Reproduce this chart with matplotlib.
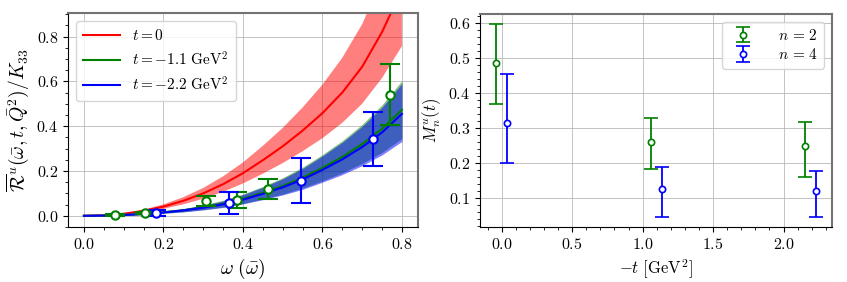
import numpy as np
import matplotlib.pyplot as plt
from matplotlib.ticker import AutoMinorLocator, MultipleLocator

plt.rcParams['font.family'] = 'serif'
plt.rcParams['font.serif'] = ['cmr10', 'DejaVu Serif']
plt.rcParams['mathtext.fontset'] = 'cm'
plt.rcParams['axes.formatter.use_mathtext'] = True

# curves, omega grid
omega = [0.0, 0.05, 0.1, 0.15, 0.2, 0.25, 0.3, 0.35, 0.4, 0.45, 0.5, 0.55, 0.6, 0.65, 0.7, 0.75, 0.8]
red_mid = [0, .002, .009, .022, .041, .067, .100, .141, .190, .248, .310, .380, .458, .550, .665, .820, 1.01]
red_hi = [0, .0025, .011, .027, .051, .083, .124, .176, .238, .312, .392, .483, .585, .705, .855, 1.06, 1.31]
red_lo = [0, .0015, .007, .017, .031, .051, .076, .107, .144, .188, .235, .288, .346, .415, .500, .615, .757]
green_mid = [0, .001, .0037, .0085, .016, .025, .038, .054, .076, .103, .133, .170, .214, .263, .320, .388, .473]
green_hi = [0, .0013, .0047, .011, .020, .032, .048, .069, .097, .131, .170, .217, .273, .335, .408, .495, .603]
green_lo = [0, .0007, .0027, .0062, .0117, .018, .028, .039, .055, .075, .097, .124, .156, .192, .234, .283, .345]
blue_mid = [0, .001, .0035, .008, .015, .024, .036, .051, .072, .098, .127, .162, .205, .252, .307, .372, .455]
blue_hi = [0, .0013, .0046, .0104, .0195, .031, .047, .066, .094, .127, .165, .211, .267, .328, .399, .484, .59]
blue_lo = [0, .0007, .0026, .0058, .011, .0175, .026, .037, .053, .072, .093, .118, .150, .184, .224, .272, .332]

# lattice points
w_g = [0.077, 0.154, 0.308, 0.385, 0.462, 0.770]
r_g = [0.003, 0.012, 0.065, 0.070, 0.120, 0.540]
e_g = [0.004, 0.005, 0.023, 0.036, 0.044, 0.136]
w_b = [0.182, 0.364, 0.545, 0.727]
r_b = [0.012, 0.057, 0.157, 0.343]
e_b = [0.012, 0.048, 0.101, 0.122]

# moments
mt = [0.0, 1.1, 2.19]
m2 = [0.485, 0.261, 0.250]
m2_lo = [0.370, 0.183, 0.160]
m2_hi = [0.598, 0.328, 0.316]
m4 = [0.315, 0.126, 0.119]
m4_lo = [0.200, 0.045, 0.047]
m4_hi = [0.455, 0.190, 0.178]

fig = plt.figure(figsize=(8.47, 2.82), dpi=100)
ax1 = fig.add_axes([0.0803, 0.195, 0.413, 0.759])
ax2 = fig.add_axes([0.5667, 0.195, 0.4156, 0.755])

for ax in (ax1, ax2):
    ax.grid(True, color='0.7', lw=0.7, alpha=0.8)
    ax.set_axisbelow(True)
    ax.tick_params(labelsize=11.5)
    for s in ('top', 'right'):
        ax.spines[s].set_color('0.45')
        ax.spines[s].set_linewidth(1.5)

ax1.fill_between(omega, red_lo, red_hi, color='red', alpha=0.5, lw=0)
ax1.fill_between(omega, green_lo, green_hi, color='green', alpha=0.5, lw=0)
ax1.fill_between(omega, blue_lo, blue_hi, color='blue', alpha=0.5, lw=0)
ax1.plot(omega, red_mid, color='red', lw=1.5, label=r'$t = 0$')
ax1.plot(omega, green_mid, color='green', lw=1.5, label=r'$t = -1.1\ \mathrm{GeV}^2$')
ax1.plot(omega, blue_mid, color='blue', lw=1.5, label=r'$t = -2.2\ \mathrm{GeV}^2$')
ax1.errorbar(w_g, r_g, yerr=e_g, fmt='o', color='green', mfc='white', mec='green', ms=6,
             mew=1.5, capsize=7, elinewidth=1.5, capthick=1.5, zorder=5)
ax1.errorbar(w_b, r_b, yerr=e_b, fmt='o', color='blue', mfc='white', mec='blue', ms=6,
             mew=1.5, capsize=7, elinewidth=1.5, capthick=1.5, zorder=5)
ax1.set_xlim(-0.04, 0.84)
ax1.set_ylim(-0.05, 0.905)
ax1.set_xticks([0.0, 0.2, 0.4, 0.6, 0.8])
ax1.set_yticks([0.0, 0.2, 0.4, 0.6, 0.8])
ax1.set_xlabel(r'$\omega\ (\bar{\omega})$', fontsize=14)
ax1.set_ylabel(r'$\overline{\mathcal{R}}^u(\bar{\omega}, t, \bar{Q}^2)/K_{33}$', fontsize=14)
ax1.legend(loc='upper left', fontsize=11, handlelength=2.4, borderpad=0.5, labelspacing=0.45)

mt = np.array(mt)
m2, m4 = np.array(m2), np.array(m4)
ax2.errorbar(mt - 0.04, m2, yerr=[m2 - np.array(m2_lo), np.array(m2_hi) - m2], fmt='o',
             color='green', mfc='white', ms=4.5, mew=1.2, capsize=5, elinewidth=1.3,
             capthick=1.3, label=r'$n\, =\, 2$')
ax2.errorbar(mt + 0.04, m4, yerr=[m4 - np.array(m4_lo), np.array(m4_hi) - m4], fmt='o',
             color='blue', mfc='white', ms=4.5, mew=1.2, capsize=5, elinewidth=1.3,
             capthick=1.3, label=r'$n\, =\, 4$')
ax2.set_xticks([0.0, 0.5, 1.0, 1.5, 2.0])
ax2.yaxis.set_major_locator(MultipleLocator(0.1))
ax2.set_xlabel(r'$-t\ [\mathrm{GeV}^2]$', fontsize=12)
ax2.set_ylabel(r'$M_n^u(t)$', fontsize=12)
ax2.legend(loc='upper right', fontsize=11, handlelength=2.0, handletextpad=1.3,
           labelspacing=0.3)

for ax in (ax1, ax2):
    ax.xaxis.set_minor_locator(AutoMinorLocator())
    ax.yaxis.set_minor_locator(AutoMinorLocator())

fig.savefig('out.png', dpi=100)
